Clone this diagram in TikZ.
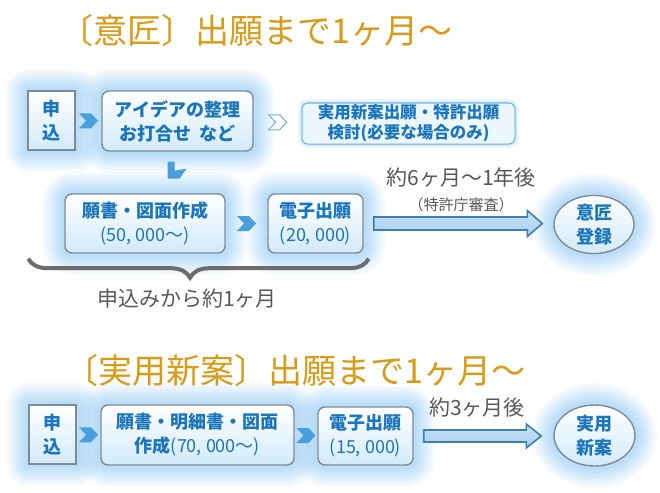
\documentclass[tikz,border=0pt]{standalone}
\usepackage{fontspec}
\setmainfont{Noto Sans CJK JP}
\usetikzlibrary{shapes.geometric,decorations.pathreplacing,calc}
\definecolor{glowblue}{HTML}{88C6F4}
\definecolor{boxblue}{HTML}{D2EAFA}
\definecolor{textblue}{HTML}{1B75BC}
\definecolor{chevblue}{HTML}{4A9EDB}
\definecolor{titlegold}{HTML}{D99A16}
\definecolor{notegray}{HTML}{585858}
\definecolor{arrowfill}{HTML}{A6CFEF}
\definecolor{arrowedge}{HTML}{3C7FB0}
\definecolor{edgegray}{HTML}{7F8B94}

\begin{document}
\begin{tikzpicture}[x=1pt,y=-1pt,
    glow/.style={preaction={draw=glowblue,line width=44pt,opacity=.08,line join=round},
      preaction={draw=glowblue,line width=38pt,opacity=.09,line join=round},
      preaction={draw=glowblue,line width=32pt,opacity=.1,line join=round},
      preaction={draw=glowblue,line width=26pt,opacity=.11,line join=round},
      preaction={draw=glowblue,line width=20pt,opacity=.12,line join=round},
      preaction={draw=glowblue,line width=14pt,opacity=.13,line join=round},
      preaction={draw=glowblue,line width=8pt,opacity=.14,line join=round}},
    stepbox/.style={glow,draw=edgegray,line width=1.4pt,rounded corners=7pt,
      top color=white,bottom color=boxblue,text=textblue,align=center,inner sep=0pt,
      font=\fontsize{18}{24}\selectfont\bfseries},
    startbox/.style={stepbox,rounded corners=0pt},
    goal/.style={stepbox,ellipse},
    notebox/.style={preaction={draw=glowblue,line width=8pt,opacity=.15},
      preaction={draw=glowblue,line width=4pt,opacity=.2},
      draw=chevblue!80,line width=1pt,rounded corners=6pt,fill=boxblue!45,
      text=textblue,align=center,inner sep=0pt,font=\fontsize{16.5}{20}\selectfont\bfseries},
    note/.style={text=notegray,font=\fontsize{21}{24}\selectfont},
    title/.style={text=titlegold,anchor=west,font=\fontsize{34}{38}\selectfont},
    bigarrow/.style={draw=arrowedge,line width=1.6pt,top color=arrowfill!60,bottom color=arrowfill},
    brace/.style={decorate,decoration={brace,mirror,amplitude=19pt,aspect=0.475},
      draw=gray!85!black,line width=4pt},
    chevron/.pic={\fill[chevblue] (-9.5,-7.5) -- (2.5,-7.5) -- (9.5,0) -- (2.5,7.5)
      -- (-9.5,7.5) -- (-2.5,0) -- cycle;},
    openchevron/.pic={\draw[chevblue!80,fill=white,line width=1pt] (-9,-7.5) -- (2,-7.5)
      -- (9,0) -- (2,7.5) -- (-9,7.5) -- (-2,0) -- cycle;},
    downchevron/.pic={\fill[chevblue] (-10,-8) -- (-3,-8) -- (-3,1) -- (9,-1) -- (2,9)
      -- (-10,9) -- cycle;},
  ]
  \useasboundingbox[fill=white] (0,0) rectangle (660,492);

  % design: application until filing
  \node[title] (title1) at (56,31) {〔意匠〕出願まで1ヶ月～};

  \node[startbox,minimum width=47,minimum height=59] (apply1) at (51.5,120.5) {申\\込};
  \node[stepbox,minimum width=151,minimum height=60] (idea) at (177.5,121)
    {アイデアの整理\\お打合せ\ \ など};
  \node[notebox,minimum width=213,minimum height=41] (study) at (408.5,123.5)
    {実用新案出願・特許出願\\検討(必要な場合のみ)};
  \node[stepbox,minimum width=160,minimum height=59] (draft1) at (145,223.5)
    {願書・図面作成\\\textmd{(50, 000～)}};
  \node[stepbox,minimum width=95,minimum height=59] (efile1) at (315.5,223.5)
    {電子出願\\\textmd{(20, 000)}};
  \node[goal,minimum width=80,minimum height=57] (design) at (594,224.5) {意匠\\登録};

  \path ($(apply1.east)!.5!(idea.west)$) pic{chevron};
  \path ($(idea.east)!.5!(study.west)$) pic{openchevron};
  \path ($(idea.south)+(0,18)$) pic{downchevron};
  \path ($(draft1.east)!.5!(efile1.west)$) pic{chevron};
  \draw[bigarrow] let \p1=($(efile1.east)+(10,0)$), \p2=($(design.west)+(-11,0)$) in
    (\x1,\y1+6.5pt) -- (\x2-15pt,\y1+6.5pt) -- (\x2-15pt,\y1+13pt) -- (\x2,\y1)
    -- (\x2-15pt,\y1-13pt) -- (\x2-15pt,\y1-6.5pt) -- (\x1,\y1-6.5pt) -- cycle;
  \node[note] (wait1) at (461,178) {約6ヶ月～1年後};
  \node[note,font=\fontsize{15}{18}\selectfont] (exam) at (461,205) {（特許庁審査）};

  \draw[brace] ($(draft1.south west)+(-36,5)$) -- ($(efile1.south east)+(5,5)$);
  \node[note] (month) at (187,299) {申込みから約1ヶ月};

  % utility model
  \node[title] (title2) at (61,371) {〔実用新案〕出願まで1ヶ月～};

  \node[startbox,minimum width=47,minimum height=59] (apply2) at (52.5,434.5) {申\\込};
  \node[stepbox,minimum width=193,minimum height=60] (draft2) at (197.5,435)
    {願書・明細書・図面\\作成\textmd{(70, 000～)}};
  \node[stepbox,minimum width=95,minimum height=58] (efile2) at (365.5,436)
    {電子出願\\\textmd{(15, 000)}};
  \node[goal,minimum width=81,minimum height=61] (model) at (594.5,435.5) {実用\\新案};

  \path ($(apply2.east)!.5!(draft2.west)$) pic{chevron};
  \path ($(draft2.east)!.5!(efile2.west)$) pic{chevron};
  \draw[bigarrow] let \p1=($(efile2.east)+(10,0)$), \p2=($(model.west)+(-12,0)$) in
    (\x1,\y1+6pt) -- (\x2-15pt,\y1+6pt) -- (\x2-15pt,\y1+12pt) -- (\x2,\y1)
    -- (\x2-15pt,\y1-12pt) -- (\x2-15pt,\y1-6pt) -- (\x1,\y1-6pt) -- cycle;
  \node[note] (wait2) at (477,408) {約3ヶ月後};
\end{tikzpicture}
\end{document}
